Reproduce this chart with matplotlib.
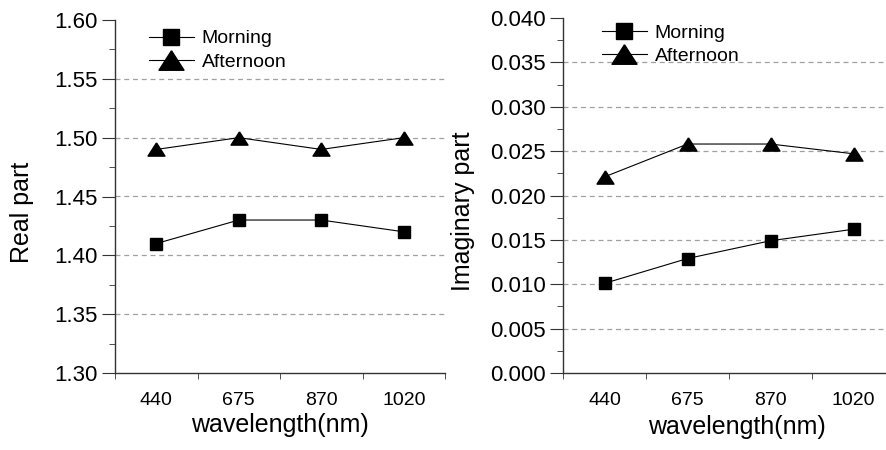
import matplotlib
matplotlib.use("Agg")
import matplotlib.pyplot as plt
from matplotlib.lines import Line2D
from matplotlib.ticker import MultipleLocator, FixedLocator

plt.rcParams['font.family'] = ['Liberation Sans', 'DejaVu Sans']

# data
wavelengths = ["440", "675", "870", "1020"]
real_morning = [1.41, 1.43, 1.43, 1.42]
real_afternoon = [1.49, 1.50, 1.49, 1.50]
imag_morning = [0.0101, 0.0129, 0.0149, 0.0162]
imag_afternoon = [0.0221, 0.0258, 0.0258, 0.0247]

pos = list(range(1, len(wavelengths) + 1))

# slightly flattened triangle, like the original figure
tri = [(0, 0.78), (-1, -0.78), (1, -0.78), (0, 0.78)]

fig = plt.figure(figsize=(8.86, 4.5), dpi=100)
ax1 = fig.add_axes([115/886, 77/450, 330/886, 353/450])
ax2 = fig.add_axes([563/886, 77/450, 323/886, 355/450])

spine_col = "#333333"


def style_axes(ax, ylim, major, minor, ylabel, fmt, xmax, ylab_xy, xlab_xy):
    ax.set_xlim(0.5, xmax)
    ax.set_ylim(*ylim)
    ax.spines['top'].set_visible(False)
    ax.spines['right'].set_visible(False)
    for s in ("left", "bottom"):
        ax.spines[s].set_color(spine_col)
        ax.spines[s].set_linewidth(1.0)
    ax.xaxis.set_major_locator(FixedLocator(pos))
    ax.set_xticklabels(wavelengths)
    ax.xaxis.set_minor_locator(FixedLocator([p - 0.5 for p in pos] + [pos[-1] + 0.5]))
    ax.tick_params(axis='x', which='major', length=0, pad=14, labelsize=14)
    ax.tick_params(axis='x', which='minor', length=4.5, direction='out', color=spine_col)
    ax.yaxis.set_major_locator(MultipleLocator(major))
    ax.yaxis.set_minor_locator(MultipleLocator(minor))
    ax.yaxis.set_major_formatter(fmt)
    ax.tick_params(axis='y', which='major', length=9.5, direction='out', color=spine_col,
                   labelsize=16, pad=3)
    ax.tick_params(axis='y', which='minor', length=4.5, direction='out', color=spine_col)
    # dashed gridlines at interior major ticks
    y = ylim[0] + major
    while y < ylim[1] - major / 2:
        ax.axhline(y, color="#a0a0a0", linestyle=(0, (4, 3)), linewidth=0.9, zorder=0)
        y += major
    ax.set_xlabel("wavelength(nm)", fontsize=18)
    ax.set_ylabel(ylabel, fontsize=18)
    ax.yaxis.set_label_coords(*ylab_xy)
    ax.xaxis.set_label_coords(*xlab_xy)


style_axes(ax1, (1.30, 1.60), 0.05, 0.025, "Real part", "{x:.2f}", 4.5,
           (-0.246, 0.456), (0.5, -0.113))
style_axes(ax2, (0.0, 0.040), 0.005, 0.0025, "Imaginary part", "{x:.3f}", 0.5 + 323/83,
           (-0.273, 0.456), (0.539, -0.118))

for ax, m, a in ((ax1, real_morning, real_afternoon), (ax2, imag_morning, imag_afternoon)):
    ax.plot(pos, m, color="black", linewidth=0.8, marker="s", markersize=8.6, zorder=3)
    ax.plot(pos, a, color="black", linewidth=0.8, marker=tri, markersize=12.2, zorder=3)

handles = [
    Line2D([], [], color="black", linewidth=0.8, marker="s", markersize=11),
    Line2D([], [], color="black", linewidth=0.8, marker=tri, markersize=18),
]
labels = ["Morning", "Afternoon"]
for ax, anchor in ((ax1, (0.103, 0.972)), (ax2, (0.121, 0.983))):
    ax.legend(handles, labels, loc="upper left", bbox_to_anchor=anchor, frameon=False,
              fontsize=14, handlelength=2.3, handletextpad=0.4, labelspacing=0.3,
              borderaxespad=0, borderpad=0)

fig.savefig("out.png", dpi=100)
